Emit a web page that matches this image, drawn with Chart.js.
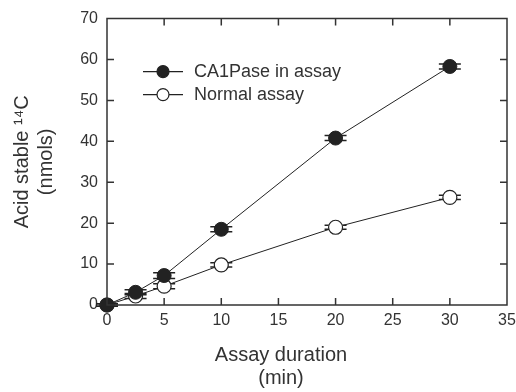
<!DOCTYPE html>
<html lang="en">
<head>
    <meta charset="UTF-8">
    <title>Acid stable 14C vs assay duration</title>
    <script src="https://cdn.jsdelivr.net/npm/chart.js"></script>
    <style>
        body { margin: 0; background: #fff; }
        #wrap { width: 516px; height: 392px; }
    </style>
</head>
<body>
    <div id="wrap"><canvas id="assayChart"></canvas></div>
    <script>
        const durations = [0, 2.5, 5, 10, 20, 30];
        const ca1paseValues = [0, 3.1, 7.2, 18.5, 40.8, 58.3];
        const ca1paseErrors = [0.3, 0.6, 0.7, 0.6, 0.6, 0.6];
        const normalValues = [0, 2.2, 4.6, 9.8, 19.0, 26.3];
        const normalErrors = [0.3, 0.6, 0.6, 0.5, 0.5, 0.5];
        const xTicks = [0, 5, 10, 15, 20, 25, 30, 35];
        const yTicks = [0, 10, 20, 30, 40, 50, 60, 70];
        const xTitle = ['Assay duration', '(min)'];

        const ink = '#222';
        const font = 'Liberation Sans, Arial, sans-serif';

        const toPoints = (vals) => durations.map((x, i) => ({ x: x, y: vals[i] }));

        // error caps under the markers
        const errorCaps = {
            id: 'errorCaps',
            beforeDatasetsDraw(chart) {
                const { ctx, scales: { x, y } } = chart;
                ctx.save();
                ctx.strokeStyle = ink;
                ctx.lineWidth = 1.5;
                [[ca1paseValues, ca1paseErrors], [normalValues, normalErrors]].forEach(([vals, errs]) => {
                    ctx.beginPath();
                    durations.forEach((d, i) => {
                        const px = x.getPixelForValue(d);
                        [vals[i] - errs[i], vals[i] + errs[i]].forEach(v => {
                            const py = y.getPixelForValue(v);
                            ctx.moveTo(px - 11, py); ctx.lineTo(px + 11, py);
                        });
                    });
                    ctx.stroke();
                });
                ctx.restore();
            }
        };

        // box frame, inward ticks, legend and x title (sits left of centre in the original)
        const frame = {
            id: 'frame',
            afterDraw(chart) {
                const { ctx, chartArea: a, scales: { x, y } } = chart;
                ctx.save();
                ctx.strokeStyle = '#333';
                ctx.lineWidth = 1.5;
                ctx.beginPath();
                ctx.rect(a.left, a.top, a.right - a.left, a.bottom - a.top);
                xTicks.forEach(v => {
                    const px = x.getPixelForValue(v);
                    ctx.moveTo(px, a.bottom); ctx.lineTo(px, a.bottom - 7);
                    ctx.moveTo(px, a.top); ctx.lineTo(px, a.top + 7);
                });
                yTicks.forEach(v => {
                    const py = y.getPixelForValue(v);
                    ctx.moveTo(a.left, py); ctx.lineTo(a.left + 7, py);
                    ctx.moveTo(a.right, py); ctx.lineTo(a.right - 7, py);
                });
                ctx.stroke();

                const items = [
                    { label: 'CA1Pase in assay', fill: ink },
                    { label: 'Normal assay', fill: '#fff' }
                ];
                items.forEach((it, i) => {
                    const yy = a.top + 53 + i * 23;
                    const x0 = a.left + 36;
                    ctx.strokeStyle = ink;
                    ctx.lineWidth = 1.2;
                    ctx.beginPath();
                    ctx.moveTo(x0, yy); ctx.lineTo(x0 + 40, yy);
                    ctx.stroke();
                    ctx.beginPath();
                    ctx.arc(x0 + 20, yy, 6, 0, Math.PI * 2);
                    ctx.fillStyle = it.fill;
                    ctx.fill();
                    ctx.stroke();
                    ctx.fillStyle = '#333';
                    ctx.font = '18px ' + font;
                    ctx.textBaseline = 'middle';
                    ctx.fillText(it.label, x0 + 51, yy);
                });

                ctx.fillStyle = '#333';
                ctx.font = '20px ' + font;
                ctx.textAlign = 'center';
                ctx.textBaseline = 'middle';
                xTitle.forEach((line, i) => {
                    ctx.fillText(line, a.left + 174, a.bottom + 50 + i * 23);
                });
                ctx.restore();
            }
        };

        const ctx = document.getElementById('assayChart').getContext('2d');
        const assayChart = new Chart(ctx, {
            type: 'line',
            data: {
                datasets: [
                    {
                        label: 'CA1Pase in assay',
                        data: toPoints(ca1paseValues),
                        borderColor: ink,
                        borderWidth: 1,
                        backgroundColor: ink,
                        pointBackgroundColor: ink,
                        pointBorderColor: ink,
                        pointRadius: 7,
                        pointBorderWidth: 1,
                        tension: 0
                    },
                    {
                        label: 'Normal assay',
                        data: toPoints(normalValues),
                        borderColor: ink,
                        borderWidth: 1,
                        backgroundColor: '#fff',
                        pointBackgroundColor: '#fff',
                        pointBorderColor: ink,
                        pointRadius: 7,
                        pointBorderWidth: 1.2,
                        tension: 0
                    }
                ]
            },
            options: {
                responsive: true,
                maintainAspectRatio: false,
                animation: false,
                clip: false,
                layout: { padding: { top: 16, right: 9, left: 0, bottom: 0 } },
                plugins: { legend: { display: false }, tooltip: { enabled: false } },
                scales: {
                    x: {
                        type: 'linear',
                        min: 0, max: 35,
                        afterBuildTicks: (s) => { s.ticks = xTicks.map(v => ({ value: v })); },
                        afterFit: (s) => { s.height = 87; s.paddingRight = 0; s.paddingLeft = 0; },
                        grid: { display: false, drawTicks: false },
                        border: { display: false },
                        ticks: { color: '#333', font: { family: font, size: 16 }, padding: 6 },
                        title: { display: false }
                    },
                    y: {
                        min: 0, max: 70,
                        afterBuildTicks: (s) => { s.ticks = yTicks.map(v => ({ value: v })); },
                        afterFit: (s) => { s.width = 107; },
                        grid: { display: false, drawTicks: false },
                        border: { display: false },
                        ticks: { color: '#333', font: { family: font, size: 16 }, padding: 9 },
                        title: {
                            display: true,
                            text: ['Acid stable ¹⁴C', '(nmols)'],
                            color: '#333',
                            font: { family: font, size: 20 },
                            padding: { top: 10, bottom: 0 }
                        }
                    }
                }
            },
            plugins: [errorCaps, frame]
        });
    </script>
</body>
</html>
